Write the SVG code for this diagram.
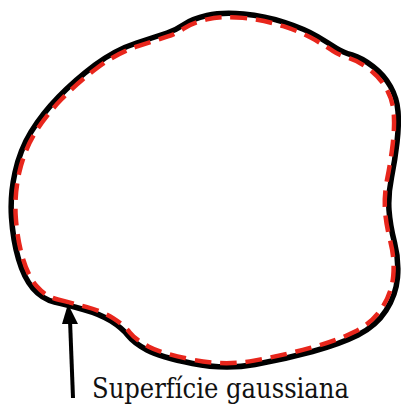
<svg xmlns="http://www.w3.org/2000/svg" width="401" height="407" viewBox="0 0 401 407">
<style>
.outline{fill:none;stroke:#000;stroke-width:5.5;stroke-linejoin:round}
.gauss{fill:none;stroke:#e8261c;stroke-width:4.6;stroke-dasharray:17 9}
.label{font-family:"DejaVu Serif Condensed","DejaVu Serif","Liberation Serif",serif;font-stretch:condensed;font-size:27px;fill:#111}
</style>
<defs>
<path id="blob" d="M54.5 302 Q67 305 83.5 309.5 Q100 314 111 321 Q122 328 128 335.5 Q134 343 147 350 Q160 357 192.5 363.5 Q225 370 255 364.5 Q285 359 312.5 351.5 Q340 344 358 335 Q376 326 386 310.5 Q396 295 397.5 277.5 Q399 260 394.5 242.5 Q390 225 389 210 Q388 195 391.5 177.5 Q395 160 397 142.5 Q399 125 398 111.5 Q397 98 390.5 86.5 Q384 75 373 66.5 Q362 58 352 55 Q342 52 336 48 Q330 44 317.5 36.5 Q305 29 285 22.5 Q265 16 243.5 14 Q222 12 207 15.5 Q192 19 184 24.5 Q176 30 167 33 Q158 36 136.5 43 Q115 50 95 65 Q75 80 58.5 97 Q42 114 31 132 Q20 150 15 172.5 Q10 195 11.5 217.5 Q13 240 18.5 259 Q24 278 33 288.5 Q42 299 54.5 302 Z"/>
</defs>
<g id="surface">
<use href="#blob" class="outline"/>
</g>
<g id="gaussian-surface">
<use href="#blob" class="gauss" transform="translate(205 190) scale(0.978) translate(-205 -190)"/>
</g>
<g id="connectors">
<line x1="73" y1="398" x2="70" y2="320" stroke="#000" stroke-width="4"/>
<polygon points="68,304 78,324 62,324" fill="#000"/>
</g>
<g id="label">
<text class="label" x="92" y="398">Superfície gaussiana</text>
</g>
</svg>
